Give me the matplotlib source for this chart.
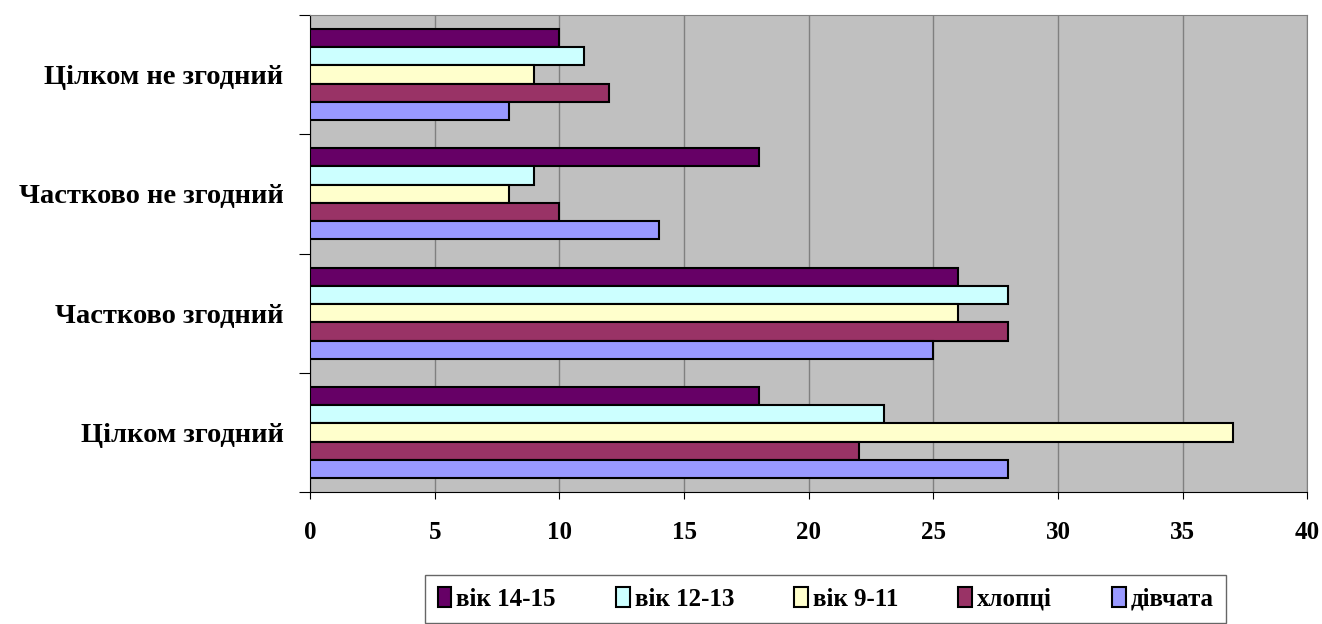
import matplotlib.pyplot as plt
import numpy as np

plt.rcParams['font.family'] = ['Liberation Serif', 'DejaVu Serif']
plt.rcParams['font.weight'] = 'bold'

categories = ['Цілком згодний', 'Частково згодний', 'Частково не згодний', 'Цілком не згодний']
series = ['вік 14-15', 'вік 12-13', 'вік 9-11', 'хлопці', 'дівчата']
values = {
    'вік 14-15': [18, 26, 18, 10],
    'вік 12-13': [23, 28, 9, 11],
    'вік 9-11': [37, 26, 8, 9],
    'хлопці': [22, 28, 10, 12],
    'дівчата': [28, 25, 14, 8],
}
colors = ['#660066', '#CCFFFF', '#FFFFCC', '#993366', '#9999FF']

fig = plt.figure(figsize=(13.22, 6.24), dpi=100)
ax = fig.add_axes([0.2345, 0.2115, 0.7545, 0.7645])
ax.set_facecolor('#C0C0C0')

y = np.arange(len(categories))
h = 0.153
for i, (name, c) in enumerate(zip(series, colors)):
    off = (2 - i) * h
    ax.barh(y + off, values[name], height=h, color=c, edgecolor='black',
            linewidth=1.5, label=name, zorder=3)

ax.set_xlim(0, 40)
ax.set_ylim(-0.5, 3.5)
ax.set_xticks(np.arange(0, 41, 5))
ax.xaxis.grid(True, color='#808080', linewidth=1, zorder=0)
ax.tick_params(axis='x', labelsize=18, length=5, pad=16, color='black')

ax.set_yticks(np.arange(-0.5, 4, 1))
ax.set_yticklabels([])
ax.set_yticks(y, minor=True)
ax.set_yticklabels(categories, minor=True, fontsize=20.5)
ax.tick_params(axis='y', which='minor', length=0, pad=19)
ax.tick_params(axis='y', which='major', length=8, color='black')

for s in ['top', 'right']:
    ax.spines[s].set_color('#808080')
for s in ['left', 'bottom']:
    ax.spines[s].set_color('black')

handles, labels = ax.get_legend_handles_labels()
leg = fig.legend(handles, labels, loc='center', bbox_to_anchor=(0.6245, 0.04),
                 ncol=5, fontsize=18, frameon=True, fancybox=False,
                 edgecolor='#404040', handlelength=0.55, handleheight=0.8,
                 handletextpad=0.2, columnspacing=2.4, borderpad=0.5)
leg.get_frame().set_linewidth(1)

fig.savefig('out.png', dpi=100)
